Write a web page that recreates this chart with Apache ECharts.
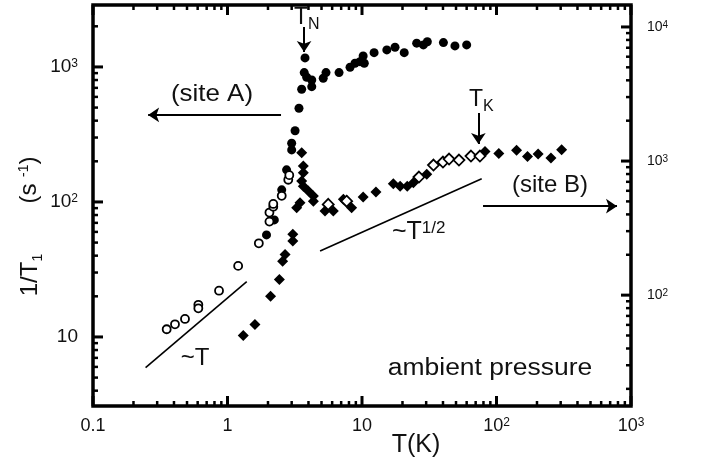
<!DOCTYPE html>
<html>
<head>
<meta charset="utf-8">
<script src="https://cdn.jsdelivr.net/npm/echarts@6/dist/echarts.min.js"></script>
<style>
  html, body { margin: 0; padding: 0; background: #fff; }
  #main { width: 707px; height: 466px; }
</style>
</head>
<body>
<div id="main"></div>
<script>
// site A (left axis), filled circles
const siteA_T = [1.95, 2.23, 2.53, 2.75, 3.0, 3.0, 3.18, 3.40, 3.56, 3.72, 3.77, 3.88, 4.23, 4.23, 5.15, 5.4, 6.75, 8.15, 8.87, 9.66, 10.2, 10.4, 12.3, 15.3, 17.6, 20.6, 25.5, 28.6, 30.6, 40.3, 49.1, 60];
const siteA_rate = [57, 73.6, 123, 173, 243, 272, 337, 494, 684, 908, 1166, 839, 801, 714, 824, 908, 908, 995, 1064, 1094, 1206, 1064, 1276, 1337, 1399, 1276, 1500, 1456, 1538, 1514, 1432, 1456];
// site A, open circles
const siteAopen_T = [0.353, 0.407, 0.483, 0.607, 0.607, 0.865, 1.20, 1.71, 2.05, 2.05, 2.19, 2.19, 2.53, 2.83, 2.88];
const siteAopen_rate = [11.4, 12.4, 13.6, 17.3, 16.3, 22.0, 33.6, 49.4, 71.5, 83.4, 92.2, 96.6, 111, 146, 158];
// site B (right axis), filled diamonds
const siteB_T = [1.31, 1.60, 2.09, 2.43, 2.57, 2.68, 3.06, 3.06, 3.27, 3.46, 3.56, 3.66, 3.66, 3.56, 3.66, 3.99, 4.35, 4.35, 5.31, 6.12, 7.27, 8.37, 10.2, 12.7, 17.1, 19.2, 21.7, 24.1, 30.3, 82.1, 104, 141, 170, 204, 254, 305];
const siteB_rate = [50.0, 60.4, 98.3, 131, 179, 201, 253, 285, 448, 489, 1153, 918, 818, 709, 650, 597, 548, 502, 424, 424, 518, 448, 539, 588, 678, 650, 650, 689, 796, 1177, 1138, 1202, 1080, 1128, 1053, 1212];
// site B, open diamonds
const siteBopen_T = [5.61, 7.69, 26.5, 34.0, 40.0, 44.4, 52.6, 64.6, 75.3];
const siteBopen_rate = [475, 502, 760, 934, 983, 1035, 1017, 1090, 1090];
// guide lines ~T and ~T^1/2
const guideT_T = [0.246, 1.39];
const guideT_rate = [5.93, 25.7];
const guideHalf_T = [4.88, 77.6];
const guideHalf_rate = [213, 738];

// axis ranges and tick labels
const xRange = [0.1, 1000];
const leftRange = [3.08, 2876];
const rightRange = [14.9, 14580];
const xTicks = [0.1, 1, 10, 100, 1000];
const xTickLabels = ["0.1", "1", "10", "10{s|2}", "10{s|3}"];
const leftTicks = [10, 100, 1000];
const leftTickLabels = ["10", "10{s|2}", "10{s|3}"];
const rightTicks = [100, 1000, 10000];
const rightTickLabels = ["10{s|2}", "10{s|3}", "10{s|4}"];

const FONT = "Liberation Sans";

function zip(a, b) {
  return a.map((v, i) => [v, b[i]]);
}

function labelFor(ticks, labels) {
  return function (v) {
    for (let i = 0; i < ticks.length; i++) {
      if (Math.abs(Math.log10(v) - Math.log10(ticks[i])) < 1e-6) return labels[i];
    }
    return "";
  };
}

// log-paper ticks (1..9 x 10^n) inside a range, [value, isMajor]
function decadeTicks(range) {
  const out = [];
  const e0 = Math.floor(Math.log10(range[0]));
  const e1 = Math.ceil(Math.log10(range[1]));
  for (let e = e0; e <= e1; e++) {
    for (let k = 1; k <= 9; k++) {
      const v = k * Math.pow(10, e);
      if (v >= range[0] * 0.999 && v <= range[1] * 1.001) out.push([v, k === 1 ? 1 : 0]);
    }
  }
  return out;
}

function richLabel(size, supSize) {
  return {
    fontFamily: FONT,
    fontSize: size,
    color: "#111",
    rich: {
      s: { fontFamily: FONT, fontSize: supSize, color: "#111", verticalAlign: "top", lineHeight: size },
    },
  };
}

function logAxis(range, position, label) {
  return {
    type: "log",
    logBase: 10,
    min: range[0],
    max: range[1],
    position: position,
    axisLine: { show: false },
    axisTick: { show: false },
    minorTick: { show: false },
    splitLine: { show: false },
    axisLabel: label,
  };
}

function arrowLines(pairs) {
  return {
    silent: true,
    symbol: ["none", "arrow"],
    symbolSize: 11,
    label: { show: false },
    lineStyle: { color: "#000", width: 2, type: "solid" },
    data: pairs.map((p) => [{ coord: p[0] }, { coord: p[1] }]),
  };
}

function text(x, y, str, size, scaleX) {
  return {
    type: "text",
    x: x,
    y: y,
    scaleX: scaleX || 1,
    style: { text: str, fontFamily: FONT, fontSize: size, fill: "#111", align: "center", verticalAlign: "middle" },
  };
}

const labels = [
  text(212, 94, "(site A)", 24, 1.08),
  text(550, 185, "(site B)", 24),
  text(490, 369, "ambient pressure", 23, 1.15),
  text(416, 445, "T(K)", 25),
  text(195, 358, "~T", 24),
  {
    type: "text", x: 392, y: 232,
    style: {
      text: "~T{s|1/2}", fontFamily: FONT, fontSize: 25, fill: "#111", align: "left", verticalAlign: "middle",
      rich: { s: { fontFamily: FONT, fontSize: 17, fill: "#111", verticalAlign: "top", lineHeight: 25 } },
    },
  },
  {
    type: "text", x: 294, y: 18,
    style: {
      text: "T{b|N}", fontFamily: FONT, fontSize: 23, fill: "#111", align: "left", verticalAlign: "middle",
      rich: { b: { fontFamily: FONT, fontSize: 16, fill: "#111", verticalAlign: "bottom", lineHeight: 30 } },
    },
  },
  {
    type: "text", x: 469, y: 100,
    style: {
      text: "T{b|K}", fontFamily: FONT, fontSize: 23, fill: "#111", align: "left", verticalAlign: "middle",
      rich: { b: { fontFamily: FONT, fontSize: 16, fill: "#111", verticalAlign: "bottom", lineHeight: 30 } },
    },
  },
  {
    type: "text", x: 30, y: 275, rotation: Math.PI / 2,
    style: {
      text: "1/T{b|1}", fontFamily: FONT, fontSize: 24, fill: "#111", align: "center", verticalAlign: "middle",
      rich: { b: { fontFamily: FONT, fontSize: 14, fill: "#111", verticalAlign: "bottom", lineHeight: 30 } },
    },
  },
  {
    type: "text", x: 29, y: 180, rotation: Math.PI / 2,
    style: {
      text: "(s {s|-1})", fontFamily: FONT, fontSize: 24, fill: "#111", align: "center", verticalAlign: "middle",
      rich: { s: { fontFamily: FONT, fontSize: 14, fill: "#111", verticalAlign: "top", lineHeight: 24 } },
    },
  },
];

let myChart = echarts.init(document.getElementById("main"));

let option = {
  animation: false,
  grid: { left: 93, top: 5, width: 538, height: 401 },
  xAxis: [
    logAxis(xRange, "bottom", Object.assign(richLabel(18, 12), {
      margin: 11,
      formatter: labelFor(xTicks, xTickLabels),
    })),
  ],
  yAxis: [
    logAxis(leftRange, "left", Object.assign(richLabel(19, 12), {
      margin: 15,
      showMinLabel: false,
      showMaxLabel: false,
      formatter: labelFor(leftTicks, leftTickLabels),
    })),
    logAxis(rightRange, "right", Object.assign(richLabel(14, 10), {
      margin: 16,
      showMinLabel: false,
      showMaxLabel: false,
      formatter: labelFor(rightTicks, rightTickLabels),
    })),
  ],
  series: [
    {
      name: "~T",
      type: "line",
      xAxisIndex: 0,
      yAxisIndex: 0,
      data: zip(guideT_T, guideT_rate),
      symbol: "none",
      silent: true,
      lineStyle: { color: "#000", width: 1.6 },
    },
    {
      name: "~T^1/2",
      type: "line",
      xAxisIndex: 0,
      yAxisIndex: 1,
      data: zip(guideHalf_T, guideHalf_rate),
      symbol: "none",
      silent: true,
      lineStyle: { color: "#000", width: 1.6 },
    },
    {
      name: "site A",
      type: "scatter",
      xAxisIndex: 0,
      yAxisIndex: 0,
      data: zip(siteA_T, siteA_rate),
      symbol: "circle",
      symbolSize: 9,
      itemStyle: { color: "#000", opacity: 1 },
      // (site A) arrow and T_N arrow
      markLine: arrowLines([
        [[2.5, 441], [0.257, 441]],
        [[3.71, 1977], [3.71, 1291]],
      ]),
    },
    {
      name: "site A open",
      type: "scatter",
      xAxisIndex: 0,
      yAxisIndex: 0,
      data: zip(siteAopen_T, siteAopen_rate),
      symbol: "circle",
      symbolSize: 8,
      itemStyle: { color: "#fff", borderColor: "#000", borderWidth: 1.8, opacity: 1 },
    },
    {
      name: "site B",
      type: "scatter",
      xAxisIndex: 0,
      yAxisIndex: 1,
      data: zip(siteB_T, siteB_rate),
      symbol: "diamond",
      symbolSize: 11,
      itemStyle: { color: "#000", opacity: 1 },
      // (site B) arrow and T_K arrow
      markLine: arrowLines([
        [[79.4, 461], [787, 461]],
        [[73.3, 2280], [73.3, 1340]],
      ]),
    },
    {
      name: "site B open",
      type: "scatter",
      xAxisIndex: 0,
      yAxisIndex: 1,
      data: zip(siteBopen_T, siteBopen_rate),
      symbol: "diamond",
      symbolSize: 11,
      itemStyle: { color: "#fff", borderColor: "#000", borderWidth: 1.8, opacity: 1 },
    },
  ],
};

myChart.setOption(option);

// frame + log ticks on their own layer, placed through the chart's own axes
function tick(x1, y1, x2, y2, major) {
  return {
    type: "line",
    silent: true,
    zlevel: 1,
    z: 100,
    shape: { x1: x1, y1: y1, x2: x2, y2: y2 },
    style: { stroke: "#000", lineWidth: major ? 3 : 2.5 },
  };
}

function frameAndTicks() {
  const px = (v) => myChart.convertToPixel({ xAxisIndex: 0 }, v);
  const pyL = (v) => myChart.convertToPixel({ yAxisIndex: 0 }, v);
  const pyR = (v) => myChart.convertToPixel({ yAxisIndex: 1 }, v);
  const x0 = px(xRange[0]);
  const x1 = px(xRange[1]);
  const yb = pyL(leftRange[0]);
  const yt = pyL(leftRange[1]);
  const els = [
    {
      type: "rect",
      silent: true,
      zlevel: 1,
      z: 100,
      shape: { x: x0, y: yt, width: x1 - x0, height: yb - yt },
      style: { fill: "transparent", stroke: "#000", lineWidth: 3.5 },
    },
  ];
  decadeTicks(xRange).forEach((t) => {
    const x = px(t[0]);
    const len = t[1] ? 10 : 5;
    els.push(tick(x, yb, x, yb - len, t[1]));
    els.push(tick(x, yt, x, yt + len, t[1]));
  });
  decadeTicks(leftRange).forEach((t) => {
    const y = pyL(t[0]);
    els.push(tick(x0, y, x0 + (t[1] ? 10 : 5), y, t[1]));
  });
  decadeTicks(rightRange).forEach((t) => {
    const y = pyR(t[0]);
    els.push(tick(x1, y, x1 - (t[1] ? 10 : 5), y, t[1]));
  });
  return els;
}

myChart.setOption({ graphic: labels.concat(frameAndTicks()) });
</script>
</body>
</html>
